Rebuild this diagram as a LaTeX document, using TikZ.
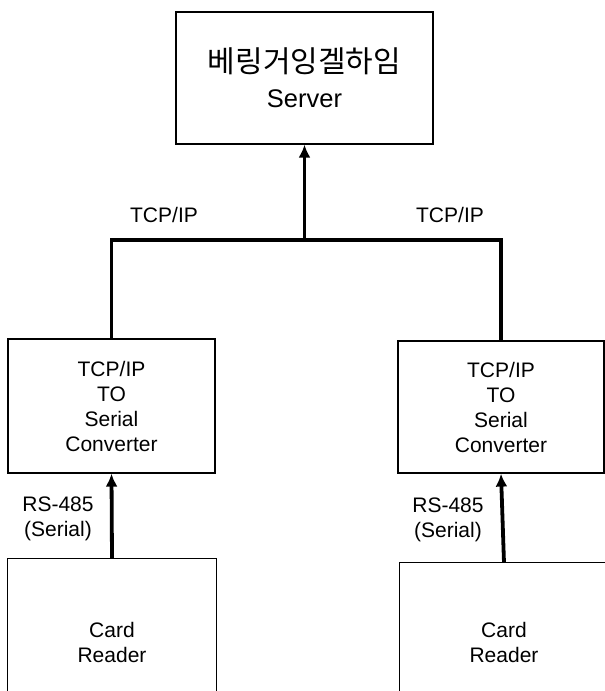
\documentclass[tikz,border=0pt]{standalone}
\usepackage{fontspec}
\setmainfont{Liberation Sans}
\newfontfamily\krfont{Noto Sans CJK KR}
\usetikzlibrary{arrows.meta}
\tikzset{
  box/.style={draw=black, line width=1.2pt, minimum width=#1, inner sep=0pt},
  openbox/.style={draw=none, minimum width=#1, inner sep=0pt},
  txt/.style={font=\fontsize{21pt}{25pt}\selectfont, align=center},
  link/.style={line width=3.8pt},
  linkarrow/.style={line width=3.8pt, -{Latex[length=13pt,width=12pt]}},
  edge3/.style={line width=1.2pt}
}
\begin{document}
\begin{tikzpicture}[x=1pt,y=-1pt]
\useasboundingbox (0,0) rectangle (605,691);
\clip (0,0) rectangle (605,691);
% server
\node[box=257pt, minimum height=132pt, align=center,
      font=\fontsize{25.5pt}{35pt}\selectfont] (server) at (304.5,78)
  {{\krfont\fontsize{30pt}{35pt}\selectfont 베링거잉겔하임}\\
   Server};
% converters
\node[box=207pt, minimum height=134pt, txt] (lconv) at (111.5,406)
  {TCP/IP\\TO\\Serial\\Converter};
\node[box=206pt, minimum height=132pt, txt] (rconv) at (501,407)
  {TCP/IP\\TO\\Serial\\Converter};
% card readers (open at the bottom)
\node[openbox=208pt, minimum height=166pt, txt] (lcard) at (112,642)
  {Card\\Reader};
\node[openbox=208pt, minimum height=158pt, txt] (rcard) at (504,642)
  {Card\\Reader};
\draw[edge3] (lcard.south west) -- (lcard.north west) -- (lcard.north east) -- (lcard.south east);
\draw[edge3] (rcard.south west) -- (rcard.north west) -- (rcard.north east) -- (rcard.south east);
% labels
\node[txt] (tcpl) at (164,215) {TCP/IP};
\node[txt] (tcpr) at (450,215) {TCP/IP};
\node[txt] (rsl) at (58,519) {RS-485\\(Serial)};
\node[txt] (rsr) at (448,520) {RS-485\\(Serial)};
% connectors
\coordinate (jn) at (304.5,240);
\draw[link] (lconv.north) |- (jn) -| (rconv.north);
\draw[linkarrow] (jn) -- (server.south);
\draw[linkarrow] (lcard.north) -- (lconv.south);
\draw[linkarrow] (rcard.north) -- (rconv.south);
\end{tikzpicture}
\end{document}
